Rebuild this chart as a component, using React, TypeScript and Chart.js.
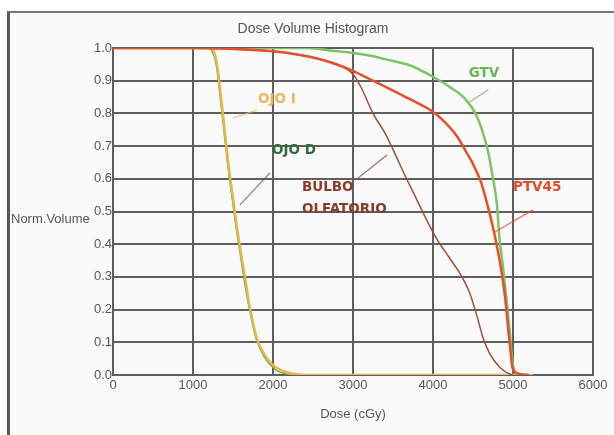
import React, { useEffect, useRef } from "react";
import { Chart, registerables } from "chart.js";

Chart.register(...registerables);

// ---- data ----
const chartTitle = "Dose Volume Histogram";
const xAxisTitle = "Dose (cGy)";
const yAxisTitle = "Norm.Volume";

const xTickMin = 0;
const xTickMax = 6000;
const xTickStep = 1000;
const yTickMin = 0;
const yTickMax = 1;
const yTickStep = 0.1;

const seriesNames = ["PTV45", "BULBO OLFATORIO", "GTV", "OJO I", "OJO D"];

const ptvDose = [0, 1000, 1500, 2000, 2300, 2600, 2850, 3000, 3250, 3500, 3700, 4000, 4200, 4300, 4420, 4500, 4600, 4670, 4760, 4840, 4900, 4940, 4970, 4990, 5050, 5200];
const ptvVol = [1, 1, 0.997, 0.99, 0.98, 0.965, 0.945, 0.93, 0.9, 0.87, 0.845, 0.805, 0.76, 0.73, 0.68, 0.645, 0.59, 0.53, 0.44, 0.34, 0.24, 0.14, 0.07, 0.025, 0.006, 0];

const bulboDose = [0, 1000, 1500, 2000, 2300, 2600, 2850, 3000, 3100, 3250, 3400, 3500, 3650, 3800, 3950, 4050, 4200, 4350, 4460, 4550, 4630, 4700, 4760, 4850, 4950, 5000];
const bulboVol = [1, 1, 0.997, 0.99, 0.98, 0.965, 0.945, 0.92, 0.88, 0.8, 0.74, 0.69, 0.61, 0.535, 0.46, 0.415, 0.36, 0.305, 0.25, 0.18, 0.11, 0.07, 0.046, 0.02, 0.004, 0];

const gtvDose = [0, 2400, 2800, 3000, 3250, 3500, 3700, 4000, 4200, 4400, 4550, 4650, 4700, 4750, 4800, 4830, 4870, 4920, 4960, 4990, 5020, 5050];
const gtvVol = [1, 1, 0.99, 0.985, 0.975, 0.96, 0.948, 0.912, 0.882, 0.845, 0.79, 0.72, 0.67, 0.6, 0.52, 0.42, 0.34, 0.23, 0.13, 0.05, 0.01, 0];

const ojoIDose = [0, 1200, 1250, 1300, 1350, 1400, 1450, 1500, 1550, 1600, 1650, 1700, 1750, 1800, 1900, 2000, 2100, 2200, 2300, 2400, 5250];
const ojoIVol = [1, 1, 0.995, 0.95, 0.85, 0.74, 0.63, 0.54, 0.45, 0.37, 0.3, 0.22, 0.16, 0.11, 0.06, 0.03, 0.015, 0.006, 0.002, 0, 0];

const ojoDDose = [0, 1180, 1240, 1290, 1340, 1390, 1440, 1490, 1540, 1590, 1640, 1690, 1740, 1790, 1880, 1970, 2060, 2150, 2250, 5200];
const ojoDVol = [1, 1, 0.99, 0.95, 0.85, 0.74, 0.63, 0.54, 0.45, 0.37, 0.29, 0.22, 0.16, 0.11, 0.06, 0.03, 0.012, 0.004, 0, 0];

const annotationTexts = ["GTV", "OJO I", "OJO D", "BULBO\nOLFATORIO", "PTV45"];

// ---- styles / layout (not data) ----
const FONT = "'Liberation Sans', Arial, sans-serif";
const TEXT_GRAY = "#555";
const GRID = "#5e5e5e";

const annotations = [
  { text: annotationTexts[0], color: "#5fb74e", at: [4637, 0.923], align: "center", line: [[4690, 0.872], [4460, 0.835]] },
  { text: annotationTexts[1], color: "#f0b45a", at: [1812, 0.841], align: "left", line: [[1800, 0.81], [1500, 0.786]] },
  { text: annotationTexts[2], color: "#2f6e3a", at: [1987, 0.688], align: "left", line: [[1962, 0.618], [1587, 0.52]] },
  { text: annotationTexts[3], color: "#8a3a26", at: [2362, 0.572], align: "left", line: [[3062, 0.602], [3425, 0.673]] },
  { text: annotationTexts[4], color: "#e8482a", at: [5000, 0.572], align: "left", line: [[5250, 0.505], [4775, 0.437]] },
];

const pts = (xs: number[], ys: number[]) => xs.map((x, i) => ({ x, y: ys[i] }));

const overlayPlugin = {
  id: "overlay",
  afterDatasetsDraw(chart: any) {
    const { ctx, scales } = chart;
    const xs = scales.x;
    const ys = scales.y;
    ctx.save();
    // chart title
    ctx.font = `14px ${FONT}`;
    ctx.fillStyle = TEXT_GRAY;
    ctx.textAlign = "center";
    ctx.textBaseline = "middle";
    ctx.fillText(chartTitle, 313, 29);
    // horizontal y-axis title
    ctx.font = `13px ${FONT}`;
    ctx.textAlign = "left";
    ctx.fillText(yAxisTitle, 11, 219);
    // annotations
    for (const a of annotations) {
      ctx.strokeStyle = a.color;
      ctx.globalAlpha = 0.75;
      ctx.lineWidth = 1.2;
      ctx.beginPath();
      ctx.moveTo(xs.getPixelForValue(a.line[0][0]), ys.getPixelForValue(a.line[0][1]));
      ctx.lineTo(xs.getPixelForValue(a.line[1][0]), ys.getPixelForValue(a.line[1][1]));
      ctx.stroke();
      ctx.globalAlpha = 1;
      ctx.font = `bold 13.5px 'DejaVu Sans', ${FONT}`;
      ctx.fillStyle = a.color;
      ctx.textAlign = a.align as CanvasTextAlign;
      ctx.textBaseline = "middle";
      const lines = a.text.split("\n");
      const px = xs.getPixelForValue(a.at[0]);
      const py = ys.getPixelForValue(a.at[1]);
      lines.forEach((t, i) => ctx.fillText(t, px, py + i * 22));
    }
    ctx.restore();
  },
};

export default function App() {
  const ref = useRef<HTMLCanvasElement | null>(null);

  useEffect(() => {
    if (!ref.current) return;
    const mk = (label: string, xs: number[], ys: number[], color: string, width: number) => ({
      label,
      data: pts(xs, ys),
      borderColor: color,
      backgroundColor: color,
      borderWidth: width,
      pointRadius: 0,
      fill: false,
      cubicInterpolationMode: "monotone" as const,
    });
    const chart = new Chart(ref.current, {
      type: "line",
      data: {
        datasets: [
          mk(seriesNames[0], ptvDose, ptvVol, "#e4502c", 2.5),
          mk(seriesNames[1], bulboDose, bulboVol, "#a04c38", 1.5),
          mk(seriesNames[2], gtvDose, gtvVol, "#7cc466", 2.5),
          mk(seriesNames[3], ojoIDose, ojoIVol, "#e6b64a", 2.5),
          mk(seriesNames[4], ojoDDose, ojoDVol, "#6aa84a", 1.5),
        ],
      },
      options: {
        responsive: false,
        animation: false,
        layout: { padding: { left: 0, right: 21, top: 48, bottom: 0 } },
        plugins: {
          legend: { display: false },
          tooltip: { enabled: false },
          title: { display: false },
        },
        scales: {
          x: {
            type: "linear",
            min: xTickMin,
            max: xTickMax,
            afterFit: (s: any) => {
              s.height = 60;
            },
            ticks: {
              stepSize: xTickStep,
              padding: 3,
              color: TEXT_GRAY,
              font: { family: FONT, size: 13 },
              maxRotation: 0,
              callback: (v: any) => String(v),
            },
            grid: { color: GRID, lineWidth: 2, drawTicks: false },
            border: { display: true, color: GRID, width: 2 },
            title: {
              display: true,
              text: xAxisTitle,
              color: TEXT_GRAY,
              font: { family: FONT, size: 13 },
              padding: { top: 0, bottom: 13 },
            },
          },
          y: {
            type: "linear",
            min: yTickMin,
            max: yTickMax,
            afterFit: (s: any) => {
              s.width = 113;
            },
            ticks: {
              stepSize: yTickStep,
              padding: 1,
              color: TEXT_GRAY,
              font: { family: FONT, size: 13 },
              callback: (v: any) => Number(v).toFixed(1),
            },
            grid: { color: GRID, lineWidth: 2, drawTicks: false },
            border: { display: true, color: GRID, width: 2 },
          },
        },
      },
      plugins: [overlayPlugin],
    } as any);
    return () => chart.destroy();
  }, []);

  return (
    <div style={{ position: "fixed", left: 0, top: 0, width: 614, height: 435, background: "#ffffff", overflow: "hidden" }}>
      <div
        style={{
          position: "absolute",
          left: 7,
          top: 11,
          width: 620,
          height: 440,
          borderLeft: "3px solid #5a5a5a",
          borderTop: "2px solid #777",
          background: "#fafafa",
        }}
      />
      <canvas ref={ref} width={614} height={435} style={{ position: "absolute", left: 0, top: 0 }} />
    </div>
  );
}
